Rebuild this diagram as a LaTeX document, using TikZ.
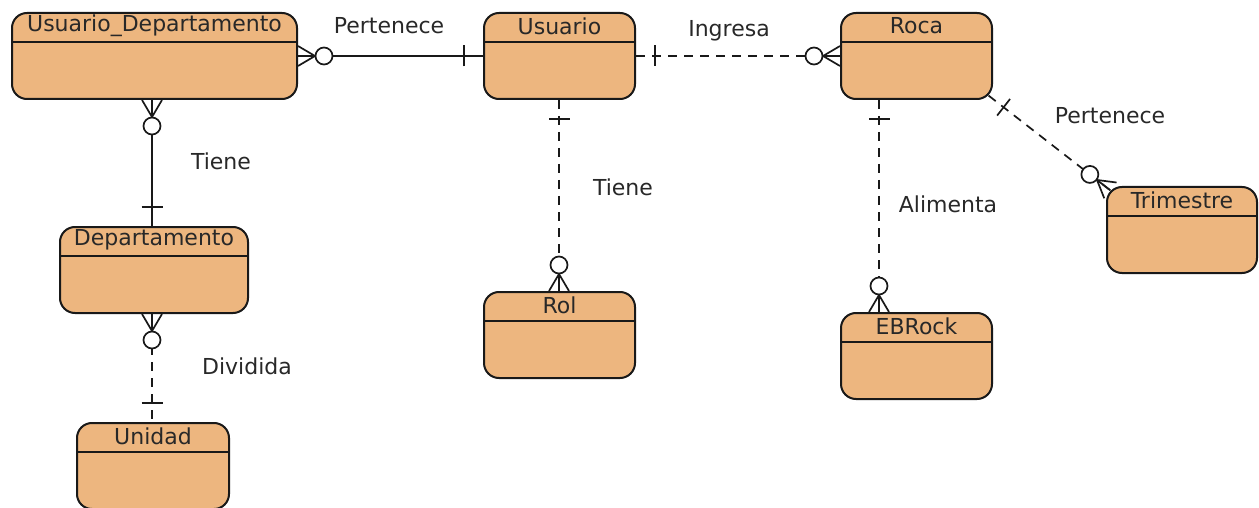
\documentclass[tikz,border=0pt]{standalone}
\usepackage{fontspec}
\setmainfont{DejaVu Sans}
\usetikzlibrary{calc}

\definecolor{entfill}{RGB}{237,182,127}
\definecolor{linegray}{RGB}{25,25,25}
\definecolor{textgray}{RGB}{40,40,40}

% crow's foot with circle (zero or many) at #1, line heading to #2
\newcommand{\manyend}[2]{%
  \coordinate (cfa) at ($(#1)!17pt!(#2)$);
  \draw[mark line] ($(#1)!10pt!90:(#2)$) -- (cfa) -- ($(#1)!10pt!-90:(#2)$);
  \draw[mark line] (#1) -- (cfa);
  \draw[mark line, fill=white] ($(#1)!26pt!(#2)$) circle[radius=8.5pt];
}
% single bar (one) at #1, line heading to #2
\newcommand{\oneend}[2]{%
  \coordinate (obm) at ($(#1)!19pt!(#2)$);
  \draw[mark line] ($(obm)!10.5pt!90:(#2)$) -- ($(obm)!10.5pt!-90:(#2)$);
}

\begin{document}
\begin{tikzpicture}[
    x=1pt, y=-1pt,
    entity/.style={draw=linegray, line width=2pt, fill=entfill,
                   rounded corners=15pt, minimum height=86pt, inner sep=0pt},
    head/.style={draw=linegray, line width=1.8pt},
    title/.style={text=textgray, font=\fontsize{22}{26}\selectfont},
    rel/.style={draw=linegray, line width=1.7pt},
    dashrel/.style={rel, dash pattern=on 9pt off 7pt},
    mark line/.style={draw=linegray, line width=1.7pt},
    note/.style={text=textgray, font=\fontsize{22}{26}\selectfont}
  ]
    \useasboundingbox (0,0) rectangle (1259,508);

    % entities
    \foreach \n/\x/\y/\w/\t in {ud/154.5/56/285/Usuario\_Departamento,
        usu/559.5/56/151/Usuario, roca/916.5/56/151/Roca,
        dep/154/270/188/Departamento, uni/153/466/152/Unidad,
        rol/559.5/335/151/Rol, ebr/916.5/356/151/EBRock,
        tri/1182/230/150/Trimestre}{
      \node[entity, minimum width=\w pt] (\n) at (\x,\y) {};
      \draw[head] ([yshift=-30pt]\n.north west) -- ([yshift=-30pt]\n.north east);
      \node[title] at ([yshift=-14pt]\n.north) {\t};
    }

    \coordinate (rocab) at ([xshift=-37.5pt]roca.south);
    \coordinate (ebrt)  at ([xshift=-37.5pt]ebr.north);
    \coordinate (rocac) at ($(roca.south east)+(-4.4pt,4.4pt)$);
    \coordinate (tric)  at ($(tri.north west)+(4.4pt,-4.4pt)$);
    \coordinate (usub)  at ([xshift=-0.5pt]usu.south);
    \coordinate (rolt)  at ([xshift=-0.5pt]rol.north);
    \coordinate (udb)   at ([xshift=-2.5pt]ud.south);
    \coordinate (dept)  at ([xshift=-2pt]dep.north);
    \coordinate (depb)  at ([xshift=-2pt]dep.south);
    \coordinate (unit)  at ([xshift=-1pt]uni.north);

    % relations
    \draw[rel] (ud.east) -- (usu.west);
    \manyend{ud.east}{usu.west}
    \oneend{usu.west}{ud.east}

    \draw[dashrel] (usu.east) -- (roca.west);
    \oneend{usu.east}{roca.west}
    \manyend{roca.west}{usu.east}

    \draw[dashrel] (rocac) -- (tric);
    \oneend{rocac}{tric}
    \manyend{tric}{rocac}

    \draw[dashrel] (rocab) -- (ebrt);
    \oneend{rocab}{ebrt}
    \manyend{ebrt}{rocab}

    \draw[dashrel] (usub) -- (rolt);
    \oneend{usub}{rolt}
    \manyend{rolt}{usub}

    \draw[rel] (udb) -- (dept);
    \manyend{udb}{dept}
    \oneend{dept}{udb}

    \draw[dashrel] (depb) -- (unit);
    \manyend{depb}{unit}
    \oneend{unit}{depb}

    % labels
    \node[note] (l1) at (389,26)  {Pertenece};
    \node[note] (l2) at (729,31)  {Ingresa};
    \node[note] (l3) at (1110,116) {Pertenece};
    \node[note] (l4) at (948,204) {Alimenta};
    \node[note] (l5) at (623,187) {Tiene};
    \node[note] (l6) at (221,161) {Tiene};
    \node[note] (l7) at (247,366) {Dividida};
\end{tikzpicture}
\end{document}
